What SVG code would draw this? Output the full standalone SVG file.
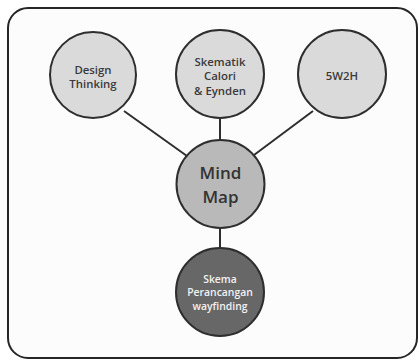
<svg xmlns="http://www.w3.org/2000/svg" width="419" height="360" viewBox="0 0 419 360">
<style>
.node{stroke:#2e2e2e;stroke-width:2}
.light{fill:#dadada}
.mid{fill:#b9b9b9}
.dark{fill:#676767}
text{font-family:"Open Sans","Liberation Sans",sans-serif;font-weight:600;text-anchor:middle}
.t{font-size:11.4px;fill:#3a3a3a}
.tb{font-size:17px;fill:#333}
.tw{font-size:10.4px;fill:#f2f2f2}
.conn{stroke:#2e2e2e;stroke-width:2;fill:none}
</style>
<rect width="419" height="360" fill="#ffffff"/>
<rect x="8" y="8" width="409" height="350" rx="20" ry="20" fill="#fcfcfc" stroke="#262626" stroke-width="2"/>
<g id="connectors">
<line class="conn" x1="124" y1="111" x2="187" y2="156"/>
<line class="conn" x1="220" y1="118" x2="220" y2="140"/>
<line class="conn" x1="313" y1="111" x2="254" y2="155"/>
<line class="conn" x1="220" y1="228" x2="220" y2="248"/>
</g>
<g id="design-thinking">
<circle class="node light" cx="93" cy="75" r="43"/>
<text class="t" x="93" y="74">Design</text>
<text class="t" x="93" y="88">Thinking</text>
</g>
<g id="skematik">
<circle class="node light" cx="220" cy="74" r="44"/>
<text class="t" x="220" y="66">Skematik</text>
<text class="t" x="220" y="80">Calori</text>
<text class="t" x="220" y="95">&amp; Eynden</text>
</g>
<g id="5w2h">
<circle class="node light" cx="342" cy="74" r="44"/>
<text class="t" x="342" y="80">5W2H</text>
</g>
<g id="mind-map">
<circle class="node mid" cx="220.5" cy="184" r="44"/>
<text class="tb" x="220.5" y="179">Mind</text>
<text class="tb" x="220.5" y="203">Map</text>
</g>
<g id="skema">
<circle class="node dark" cx="220" cy="292" r="44"/>
<text class="tw" x="220" y="283">Skema</text>
<text class="tw" x="220" y="296">Perancangan</text>
<text class="tw" x="220" y="310">wayfinding</text>
</g>
</svg>
